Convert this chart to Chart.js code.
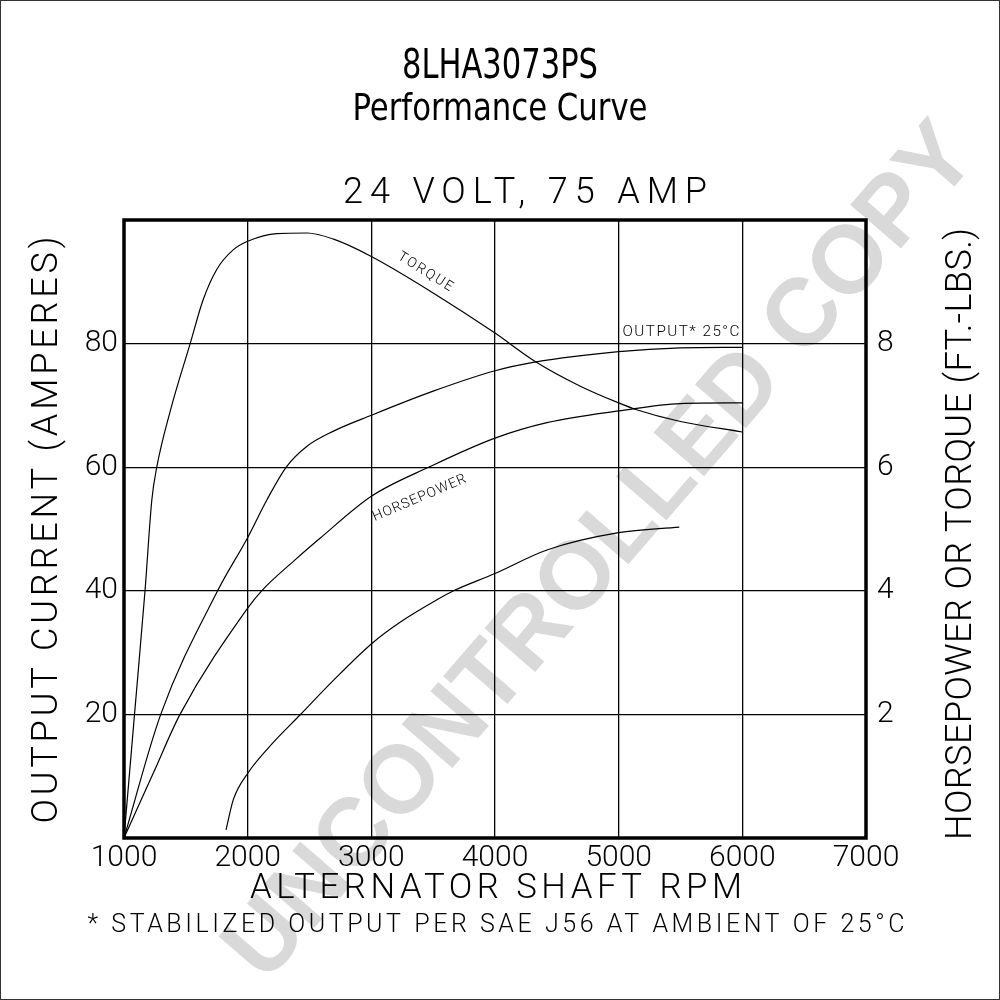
<!DOCTYPE html>
<html>
<head>
<meta charset="utf-8">
<title>8LHA3073PS Performance Curve</title>
<script src="https://cdn.jsdelivr.net/npm/chart.js@4.4.1/dist/chart.umd.min.js"></script>
<style>
  html, body { margin: 0; padding: 0; background: #fff; }
  #wrap { width: 1000px; height: 1000px; }
</style>
</head>
<body>
<div id="wrap"><canvas id="perfChart" width="1000" height="1000"></canvas></div>
<script>
// tick labels
const rpmTicks = [1000, 2000, 3000, 4000, 5000, 6000, 7000];
const ampTicks = [20, 40, 60, 80];
const hpTorqueTicks = [2, 4, 6, 8];

// output current at 25°C (amperes)
const outputRpm = [1000, 1297, 1757, 2005, 2155, 2315, 2480, 2690, 3000, 3500, 4000, 4320, 5000, 5500, 6000];
const outputAmps = [0, 20, 40, 48.8, 54.7, 60.1, 63.4, 65.8, 68.4, 72.3, 75.6, 77.0, 78.7, 79.3, 79.4];

// torque (ft.-lbs.)
const torqueRpm = [1000, 1085, 1170, 1225, 1265, 1370, 1535, 1640, 1750, 1885, 2005, 2235, 2480, 2695, 3000, 3500, 4000, 4325, 4690, 5000, 5145, 5500, 6000];
const torqueFtLbs = [0, 2.0, 4.0, 5.47, 6.0, 6.88, 8.0, 8.71, 9.2, 9.52, 9.66, 9.78, 9.79, 9.69, 9.41, 8.82, 8.17, 7.71, 7.31, 7.04, 6.93, 6.74, 6.57];

// horsepower
const hpRpm = [1000, 1237, 1453, 2000, 2113, 2383, 2585, 3000, 3475, 4000, 4420, 5000, 5500, 6000];
const hpValues = [0, 1.05, 2.0, 3.72, 4.0, 4.5, 4.85, 5.53, 6.01, 6.47, 6.72, 6.91, 7.03, 7.04];

// unlabelled lower curve (read on the amperes scale)
const lowerRpm = [1825, 1884, 2005, 2200, 2423, 2693, 3000, 3232, 3527, 3665, 4000, 4420, 5000, 5490];
const lowerAmps = [1.3, 6.2, 10.6, 15.3, 19.9, 25.5, 31.4, 34.9, 38.5, 40.0, 42.8, 46.6, 49.4, 50.3];

const cadFont = "Roboto, 'DejaVu Sans', sans-serif";
const titleFont = "'Liberation Sans Narrow', 'DejaVu Sans Condensed', 'Open Sans', sans-serif";

function curve(label, rpm, vals, axis) {
  return {
    label: label,
    data: rpm.map((r, i) => ({ x: r, y: vals[i] })),
    yAxisID: axis,
    borderColor: '#000',
    borderWidth: 1.2,
    pointRadius: 0,
    fill: false,
    cubicInterpolationMode: 'monotone'
  };
}

// draw text with its cap box centred on (x, y), stretched to a given width
function drawText(ctx, text, o) {
  const size = o.cap / 0.72;
  ctx.save();
  ctx.translate(o.x, o.y);
  ctx.rotate((o.angle || 0) * Math.PI / 180);
  ctx.font = (o.weight || 400) + ' ' + size + 'px ' + o.family;
  ctx.fillStyle = o.color || '#000';
  ctx.textBaseline = 'alphabetic';
  ctx.textAlign = 'left';
  const w = ctx.measureText(text).width;
  if (o.spread && 'letterSpacing' in ctx && o.width > w) {
    const ls = (o.width - w) / (text.length - 1);
    ctx.letterSpacing = ls + 'px';
    ctx.fillText(text, -o.width / 2, o.cap / 2);
  } else {
    ctx.scale(o.width / w, 1);
    ctx.fillText(text, -w / 2, o.cap / 2);
  }
  ctx.restore();
}

const sheetPlugin = {
  id: 'sheet',
  beforeDraw(chart) {
    const ctx = chart.ctx;
    ctx.save();
    ctx.fillStyle = '#fff';
    ctx.fillRect(0, 0, chart.width, chart.height);
    ctx.restore();
    drawText(ctx, 'UNCONTROLLED COPY', {
      x: 596, y: 548, cap: 70, width: 1093, angle: -49.2,
      family: "'Liberation Sans', Arial, sans-serif", weight: 700, color: '#d9d9d9'
    });
  },
  afterDatasetsDraw(chart) {
    const ctx = chart.ctx;
    const sx = chart.scales.x, sy = chart.scales.y;
    drawText(ctx, 'TORQUE', { x: sx.getPixelForValue(3442), y: sy.getPixelForValue(91.8), cap: 10, width: 62, angle: 32, family: cadFont, weight: 300, spread: true });
    drawText(ctx, 'HORSEPOWER', { x: sx.getPixelForValue(3385), y: sy.getPixelForValue(55.2), cap: 10, width: 100, angle: -23, family: cadFont, weight: 300, spread: true });
    drawText(ctx, 'OUTPUT* 25°C', { x: sx.getPixelForValue(5504), y: sy.getPixelForValue(82.2), cap: 11, width: 117, family: cadFont, weight: 300, spread: true });
  },
  afterDraw(chart) {
    const ctx = chart.ctx;
    const a = chart.chartArea;
    ctx.save();
    ctx.strokeStyle = '#000';
    ctx.lineWidth = 3.5;
    ctx.strokeRect(a.left, a.top, a.right - a.left, a.bottom - a.top);
    ctx.lineWidth = 1;
    ctx.strokeStyle = '#333';
    ctx.strokeRect(0.5, 0.5, chart.width - 1, chart.height - 1);
    ctx.restore();

    drawText(ctx, '8LHA3073PS', { x: 500, y: 63, cap: 30, width: 196, family: titleFont });
    drawText(ctx, 'Performance Curve', { x: 500, y: 106, cap: 27, width: 295, family: titleFont });
    drawText(ctx, '24 VOLT, 75 AMP', { x: 525, y: 190, cap: 26, width: 364, family: cadFont, weight: 300, spread: true });
    drawText(ctx, 'ALTERNATOR SHAFT RPM', { x: 496, y: 885, cap: 25, width: 492, family: cadFont, weight: 300, spread: true });
    drawText(ctx, '* STABILIZED OUTPUT PER SAE J56 AT AMBIENT OF 25°C', { x: 496, y: 923, cap: 18, width: 817, family: cadFont, weight: 300, spread: true });
    drawText(ctx, 'OUTPUT CURRENT (AMPERES)', { x: 44, y: 530, cap: 26, width: 587, angle: -90, family: cadFont, weight: 300, spread: true });
    drawText(ctx, 'HORSEPOWER OR TORQUE (FT.-LBS.)', { x: 958, y: 534, cap: 26, width: 612, angle: -90, family: cadFont, weight: 300, spread: true });
  }
};

const tickFont = { family: cadFont, size: 30, weight: '300' };
const gridStyle = { color: '#000', lineWidth: 1.3, drawTicks: false };

new Chart(document.getElementById('perfChart'), {
  type: 'line',
  data: {
    datasets: [
      curve('Output 25°C (A)', outputRpm, outputAmps, 'y'),
      curve('Torque (ft.-lbs.)', torqueRpm, torqueFtLbs, 'y2'),
      curve('Horsepower', hpRpm, hpValues, 'y2'),
      curve('Lower curve (A)', lowerRpm, lowerAmps, 'y')
    ]
  },
  options: {
    responsive: false,
    animation: false,
    layout: { padding: { top: 220, left: 0, right: 0, bottom: 0 } },
    plugins: { legend: { display: false }, tooltip: { enabled: false } },
    scales: {
      x: {
        type: 'linear', min: 1000, max: 7000,
        afterBuildTicks: s => { s.ticks = rpmTicks.map(v => ({ value: v })); },
        afterFit: s => { s.height = 162; },
        grid: gridStyle,
        border: { display: false },
        ticks: { font: tickFont, color: '#000', padding: 2, maxRotation: 0, autoSkip: false, callback: v => String(v) }
      },
      y: {
        position: 'left', min: 0, max: 100,
        afterBuildTicks: s => { s.ticks = ampTicks.map(v => ({ value: v })); },
        afterFit: s => { s.width = 124; },
        grid: gridStyle,
        border: { display: false },
        ticks: { font: tickFont, color: '#000', padding: 6, autoSkip: false, callback: v => String(v) }
      },
      y2: {
        position: 'right', min: 0, max: 10,
        afterBuildTicks: s => { s.ticks = hpTorqueTicks.map(v => ({ value: v })); },
        afterFit: s => { s.width = 134; },
        grid: { display: false },
        border: { display: false },
        ticks: { font: tickFont, color: '#000', padding: 3, autoSkip: false, callback: v => String(v) }
      }
    }
  },
  plugins: [sheetPlugin]
});
</script>
</body>
</html>
